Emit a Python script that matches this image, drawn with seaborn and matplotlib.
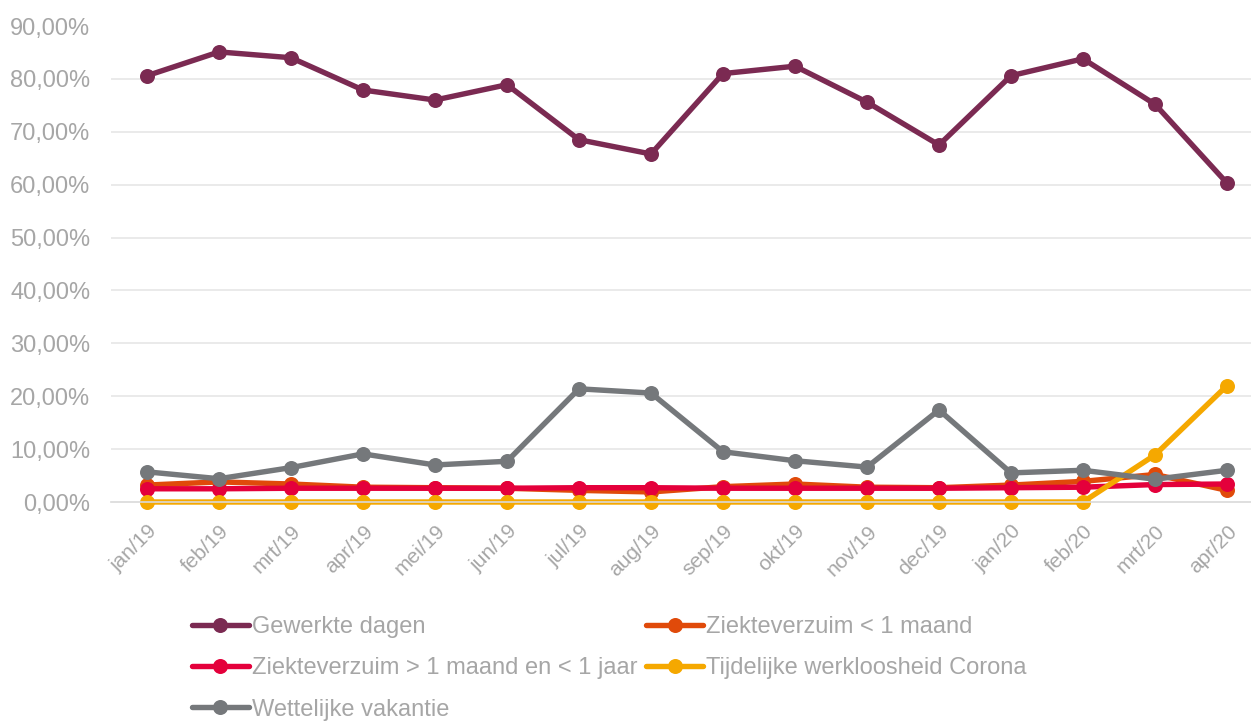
import numpy as np
import pandas as pd
import matplotlib
matplotlib.use("Agg")
import matplotlib.pyplot as plt
import seaborn as sns

# Data (percent)
months = ["jan/19", "feb/19", "mrt/19", "apr/19", "mei/19", "jun/19", "jul/19", "aug/19",
          "sep/19", "okt/19", "nov/19", "dec/19", "jan/20", "feb/20", "mrt/20", "apr/20"]
gewerkte_dagen = [80.6, 85.1, 84.0, 77.9, 76.0, 78.9, 68.5, 65.8,
                  81.0, 82.4, 75.6, 67.5, 80.6, 83.8, 75.2, 60.3]
ziekte_kort = [3.2, 3.8, 3.4, 2.8, 2.7, 2.6, 2.2, 1.9,
               2.9, 3.4, 2.8, 2.7, 3.2, 3.9, 5.2, 2.2]
ziekte_lang = [2.5, 2.5, 2.6, 2.6, 2.6, 2.6, 2.7, 2.7,
               2.6, 2.6, 2.6, 2.6, 2.7, 2.8, 3.3, 3.4]
corona = [0, 0, 0, 0, 0, 0, 0, 0,
          0, 0, 0, 0, 0, 0, 8.9, 22.0]
vakantie = [5.7, 4.4, 6.5, 9.1, 7.0, 7.7, 21.4, 20.6,
            9.5, 7.8, 6.6, 17.4, 5.5, 6.0, 4.3, 6.0]

series_names = ["Gewerkte dagen", "Ziekteverzuim < 1 maand",
                "Ziekteverzuim > 1 maand en < 1 jaar",
                "Tijdelijke werkloosheid Corona", "Wettelijke vakantie"]
series_values = [gewerkte_dagen, ziekte_kort, ziekte_lang, corona, vakantie]
colors = ["#7B2A52", "#E04A0A", "#E4003B", "#F5A800", "#75787B"]

rows = []
for name, vals in zip(series_names, series_values):
    for i, v in enumerate(vals):
        rows.append({"idx": i, "value": v, "serie": name})
df = pd.DataFrame(rows)

sns.set_style("white")
plt.rcParams["font.family"] = ["Liberation Sans", "DejaVu Sans"]
text_col = "#A6A6A6"

fig = plt.figure(figsize=(12.51, 7.23), dpi=100)
ax = fig.add_axes([111 / 1251, 1 - 502 / 723, 1152 / 1251, (502 - 26) / 723])

sns.lineplot(data=df, x="idx", y="value", hue="serie", hue_order=series_names,
             palette=dict(zip(series_names, colors)), marker="o", markersize=10.8,
             markeredgewidth=0, linewidth=3.9, sort=False, ax=ax)
for line in ax.get_lines():
    line.set_clip_on(False)

ax.set_xlim(-0.5, 15.5)
ax.set_ylim(0, 90)
ax.set_yticks(np.arange(0, 91, 10))
ax.set_yticklabels([f"{v},00%" for v in range(0, 91, 10)], fontsize=17, color=text_col)
ax.set_xticks(range(len(months)))
ax.set_xticklabels(months, rotation=45, ha="right", rotation_mode="anchor",
                   fontsize=15, color=text_col)
ax.set_xticks(np.arange(-0.5, 16, 1), minor=True)
ax.tick_params(axis="x", which="major", length=0, pad=14)
ax.tick_params(axis="x", which="minor", length=6, color="#D9D9D9", width=1)
ax.tick_params(axis="y", length=0, pad=15)
ax.set_xlabel("")
ax.set_ylabel("")

for v in range(10, 90, 10):
    ax.axhline(v, color="#E6E6E6", linewidth=1.2, zorder=0)
for s in ["top", "right", "left"]:
    ax.spines[s].set_visible(False)
ax.spines["bottom"].set_color("#D9D9D9")
ax.spines["bottom"].set_linewidth(1.2)

handles, labels = ax.get_legend_handles_labels()
hmap = dict(zip(labels, handles))
order = [series_names[0], series_names[2], series_names[4], series_names[1], series_names[3]]
ax.get_legend().remove()
leg = fig.legend([hmap[n] for n in order], order, loc="upper left",
                 bbox_to_anchor=(192 / 1251, 1 - 616 / 723), ncol=2, frameon=False,
                 fontsize=17, handlelength=2.4, handletextpad=0.12, columnspacing=0.4,
                 labelspacing=0.82, borderaxespad=0, borderpad=0)
for t in leg.get_texts():
    t.set_color(text_col)

fig.savefig("out.png", dpi=100)
